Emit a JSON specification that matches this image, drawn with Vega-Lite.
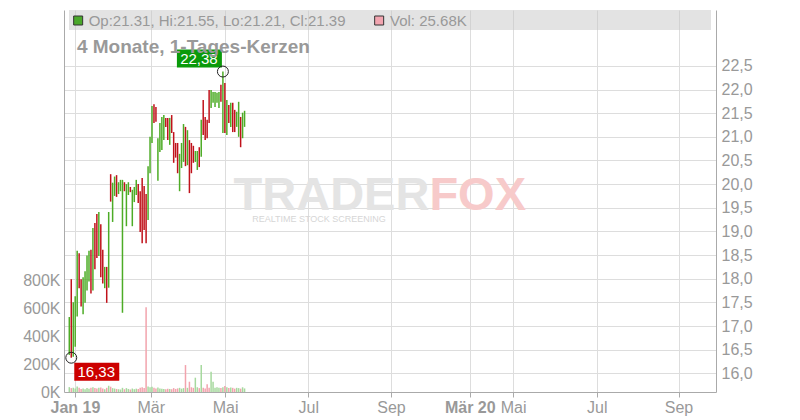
{
  "$schema": "https://vega.github.io/schema/vega-lite/v6.json",
  "autosize": {"type": "none"},
  "width": 652,
  "height": 382,
  "padding": {"left": 64, "top": 10, "right": 84, "bottom": 28},
  "background": "white",
  "config": {
    "view": {"stroke": null},
    "font": "Liberation Sans",
    "axis": {"labelColor": "#999999", "labelFont": "Liberation Sans", "labelFontSize": 16, "domainColor": "#aaaaaa", "gridColor": "#dddddd", "tickColor": "#aaaaaa", "title": null}
  },
  "datasets": {
    "candles": [
      {"i":0,"o":16.55,"h":17.19,"l":16.39,"c":17.05,"v":35000},
      {"i":1,"o":17.80,"h":17.99,"l":16.33,"c":16.50,"v":28000},
      {"i":2,"o":16.60,"h":17.50,"l":16.35,"c":17.35,"v":30000},
      {"i":3,"o":16.80,"h":17.63,"l":16.56,"c":17.50,"v":25000},
      {"i":4,"o":17.40,"h":18.59,"l":17.20,"c":18.40,"v":40000},
      {"i":5,"o":18.40,"h":18.54,"l":17.80,"c":17.90,"v":30000},
      {"i":6,"o":17.90,"h":17.99,"l":17.41,"c":17.50,"v":22000},
      {"i":7,"o":17.40,"h":18.03,"l":17.25,"c":17.90,"v":25000},
      {"i":8,"o":17.60,"h":18.16,"l":17.49,"c":18.10,"v":20000},
      {"i":9,"o":17.90,"h":18.49,"l":17.75,"c":18.40,"v":28000},
      {"i":10,"o":18.00,"h":18.59,"l":17.94,"c":18.50,"v":24000},
      {"i":11,"o":18.50,"h":18.61,"l":17.69,"c":17.80,"v":30000},
      {"i":12,"o":17.90,"h":19.07,"l":17.75,"c":19.00,"v":35000},
      {"i":13,"o":19.00,"h":19.18,"l":18.20,"c":18.30,"v":28000},
      {"i":14,"o":19.20,"h":19.37,"l":18.44,"c":18.50,"v":25000},
      {"i":15,"o":18.60,"h":19.41,"l":18.48,"c":19.30,"v":30000},
      {"i":16,"o":19.00,"h":19.15,"l":18.03,"c":18.10,"v":32000},
      {"i":17,"o":18.50,"h":18.61,"l":17.90,"c":18.00,"v":26000},
      {"i":18,"o":17.90,"h":18.25,"l":17.80,"c":18.20,"v":20000},
      {"i":19,"o":18.10,"h":18.25,"l":17.49,"c":17.60,"v":30000},
      {"i":20,"o":17.90,"h":19.41,"l":17.81,"c":19.30,"v":45000},
      {"i":21,"o":20.10,"h":20.21,"l":19.63,"c":19.70,"v":38000},
      {"i":22,"o":19.30,"h":20.03,"l":19.20,"c":19.90,"v":28000},
      {"i":23,"o":19.80,"h":20.16,"l":19.75,"c":20.10,"v":25000},
      {"i":24,"o":20.10,"h":20.19,"l":19.73,"c":19.80,"v":22000},
      {"i":25,"o":19.82,"h":20.04,"l":19.79,"c":20.00,"v":20000},
      {"i":26,"o":19.90,"h":20.09,"l":19.85,"c":20.05,"v":18000},
      {"i":27,"o":19.90,"h":20.09,"l":17.28,"c":20.05,"v":30000},
      {"i":28,"o":20.00,"h":20.04,"l":19.85,"c":19.88,"v":20000},
      {"i":29,"o":19.30,"h":20.00,"l":19.11,"c":19.90,"v":28000},
      {"i":30,"o":19.80,"h":20.04,"l":19.77,"c":20.00,"v":22000},
      {"i":31,"o":19.92,"h":19.94,"l":19.83,"c":19.85,"v":18000},
      {"i":32,"o":19.20,"h":19.88,"l":19.11,"c":19.80,"v":25000},
      {"i":33,"o":19.65,"h":19.94,"l":19.62,"c":19.90,"v":20000},
      {"i":34,"o":19.80,"h":20.09,"l":19.77,"c":20.05,"v":24000},
      {"i":35,"o":19.95,"h":20.00,"l":19.60,"c":19.65,"v":22000},
      {"i":36,"o":19.70,"h":19.85,"l":18.99,"c":19.10,"v":30000},
      {"i":37,"o":19.95,"h":20.13,"l":18.75,"c":18.90,"v":35000},
      {"i":38,"o":19.80,"h":19.96,"l":19.03,"c":19.10,"v":28000},
      {"i":39,"o":19.60,"h":19.79,"l":18.75,"c":18.90,"v":610000},
      {"i":40,"o":19.30,"h":20.38,"l":19.24,"c":20.30,"v":40000},
      {"i":41,"o":20.30,"h":21.00,"l":20.23,"c":20.90,"v":35000},
      {"i":42,"o":20.95,"h":21.65,"l":20.87,"c":21.55,"v":38000},
      {"i":43,"o":21.60,"h":21.69,"l":21.29,"c":21.35,"v":30000},
      {"i":44,"o":21.55,"h":21.63,"l":21.32,"c":21.40,"v":25000},
      {"i":45,"o":20.15,"h":20.97,"l":20.07,"c":20.90,"v":32000},
      {"i":46,"o":20.75,"h":21.29,"l":20.68,"c":21.20,"v":26000},
      {"i":47,"o":20.80,"h":21.42,"l":20.72,"c":21.35,"v":24000},
      {"i":48,"o":21.00,"h":21.46,"l":20.93,"c":21.40,"v":22000},
      {"i":49,"o":21.38,"h":21.40,"l":21.21,"c":21.25,"v":20000},
      {"i":50,"o":21.35,"h":21.40,"l":20.93,"c":21.00,"v":24000},
      {"i":51,"o":20.90,"h":21.40,"l":20.83,"c":21.35,"v":22000},
      {"i":52,"o":21.42,"h":21.46,"l":21.08,"c":21.12,"v":20000},
      {"i":53,"o":21.05,"h":21.10,"l":20.45,"c":20.50,"v":28000},
      {"i":54,"o":20.82,"h":20.87,"l":20.56,"c":20.60,"v":22000},
      {"i":55,"o":20.80,"h":20.87,"l":20.23,"c":20.30,"v":26000},
      {"i":56,"o":19.95,"h":20.64,"l":19.85,"c":20.55,"v":30000},
      {"i":57,"o":20.40,"h":20.87,"l":20.34,"c":20.80,"v":24000},
      {"i":58,"o":20.55,"h":21.27,"l":20.47,"c":21.20,"v":28000},
      {"i":59,"o":21.10,"h":21.21,"l":20.38,"c":20.45,"v":194000},
      {"i":60,"o":20.48,"h":21.14,"l":20.40,"c":21.05,"v":30000},
      {"i":61,"o":20.85,"h":20.93,"l":19.81,"c":19.90,"v":74000},
      {"i":62,"o":20.80,"h":20.87,"l":20.23,"c":20.30,"v":34000},
      {"i":63,"o":20.75,"h":20.81,"l":20.45,"c":20.50,"v":30000},
      {"i":64,"o":20.50,"h":20.70,"l":20.47,"c":20.65,"v":103000},
      {"i":65,"o":20.35,"h":20.70,"l":20.30,"c":20.65,"v":34000},
      {"i":66,"o":20.72,"h":20.78,"l":20.36,"c":20.40,"v":28000},
      {"i":67,"o":20.65,"h":21.36,"l":20.58,"c":21.30,"v":194000},
      {"i":68,"o":21.70,"h":21.78,"l":21.04,"c":21.10,"v":30000},
      {"i":69,"o":21.35,"h":21.42,"l":20.93,"c":21.00,"v":26000},
      {"i":70,"o":21.30,"h":21.36,"l":20.97,"c":21.00,"v":55000},
      {"i":71,"o":21.90,"h":21.99,"l":21.29,"c":21.35,"v":30000},
      {"i":72,"o":21.65,"h":21.99,"l":21.61,"c":21.95,"v":146000},
      {"i":73,"o":21.75,"h":21.95,"l":21.72,"c":21.92,"v":74000},
      {"i":74,"o":21.68,"h":21.95,"l":21.63,"c":21.90,"v":30000},
      {"i":75,"o":21.75,"h":21.93,"l":21.72,"c":21.90,"v":34000},
      {"i":76,"o":21.65,"h":21.95,"l":21.61,"c":21.90,"v":30000},
      {"i":77,"o":22.05,"h":22.10,"l":21.74,"c":21.78,"v":28000},
      {"i":78,"o":21.20,"h":22.38,"l":21.08,"c":22.10,"v":34000},
      {"i":79,"o":22.05,"h":22.14,"l":21.08,"c":21.15,"v":43000},
      {"i":80,"o":21.10,"h":21.78,"l":21.04,"c":21.70,"v":34000},
      {"i":81,"o":21.62,"h":21.67,"l":21.29,"c":21.32,"v":28000},
      {"i":82,"o":21.25,"h":21.72,"l":21.21,"c":21.65,"v":32000},
      {"i":83,"o":21.65,"h":21.72,"l":21.10,"c":21.15,"v":30000},
      {"i":84,"o":21.50,"h":21.57,"l":21.10,"c":21.15,"v":24000},
      {"i":85,"o":21.25,"h":21.53,"l":21.21,"c":21.50,"v":30000},
      {"i":86,"o":21.05,"h":21.74,"l":21.00,"c":21.70,"v":28000},
      {"i":87,"o":21.35,"h":21.42,"l":20.78,"c":20.85,"v":24000},
      {"i":88,"o":21.00,"h":21.51,"l":20.97,"c":21.45,"v":34000},
      {"i":89,"o":21.31,"h":21.55,"l":21.21,"c":21.39,"v":25680}
    ],
    "hi": [{"i":78,"p":22.38,"label":"22,38"}],
    "lo": [{"i":1,"p":16.33,"label":"16,33"}]
  },
  "layer": [
    {
      "layer": [
        {
          "data": {"name": "candles"},
          "mark": {"type": "rule", "strokeWidth": 1.5},
          "encoding": {
            "x": {"field": "i", "type": "quantitative", "scale": {"domain": [-0.15, 325.85], "nice": false, "zero": false},
              "axis": {"orient": "bottom", "values": [2.85, 41.35, 79.1, 121.35, 163.35, 203.35, 225.35, 267.85, 309.35], "tickCount": 20,
                "labelExpr": "datum.value < 10 ? 'Jan 19' : datum.value < 50 ? 'Mär' : datum.value < 100 ? 'Mai' : datum.value < 150 ? 'Jul' : datum.value < 180 ? 'Sep' : datum.value < 210 ? 'Mär 20' : datum.value < 250 ? 'Mai' : datum.value < 290 ? 'Jul' : 'Sep'",
                "labelFontWeight": {"condition": {"test": "datum.value < 10 || (datum.value > 180 && datum.value < 210)", "value": "bold"}, "value": "normal"},
                "grid": true, "tickSize": 5, "labelPadding": 2, "labelFlush": false, "labelOverlap": false, "title": null}},
            "y": {"field": "l", "type": "quantitative", "scale": {"domain": [15.605, 23.681], "nice": false, "zero": false},
              "axis": {"orient": "right", "values": [16, 16.5, 17, 17.5, 18, 18.5, 19, 19.5, 20, 20.5, 21, 21.5, 22, 22.5], "tickCount": 30,
                "labelExpr": "replace(format(datum.value,'.1f'),'.',',')", "grid": true, "ticks": false, "labelPadding": 5, "labelOverlap": false, "labelFlush": false, "title": null}},
            "y2": {"field": "h"},
            "color": {"condition": {"test": "datum.c >= datum.o", "value": "#4dac26"}, "value": "#c0121b"}
          }
        },
        {
          "data": {"values": [{}]},
          "mark": {"type": "rect", "color": "#c8c8c8", "opacity": 0.5},
          "encoding": {
            "x": {"datum": -0.15, "type": "quantitative"},
            "x2": {"datum": 325.85},
            "y": {"datum": 23.26, "type": "quantitative"},
            "y2": {"datum": 23.681}
          }
        },
        {
          "data": {"name": "hi"},
          "mark": {"type": "point", "shape": "M-46,-22H-1V-4H-46Z", "size": 4, "filled": true, "color": "#0a9a0a", "opacity": 1},
          "encoding": {"x": {"field": "i", "type": "quantitative"}, "y": {"field": "p", "type": "quantitative"}}
        },
        {
          "data": {"name": "hi"},
          "mark": {"type": "text", "dx": -24, "dy": -13, "align": "center", "baseline": "middle", "fontSize": 15, "color": "white", "font": "Liberation Sans"},
          "encoding": {"x": {"field": "i", "type": "quantitative"}, "y": {"field": "p", "type": "quantitative"}, "text": {"field": "label"}}
        },
        {
          "data": {"name": "lo"},
          "mark": {"type": "point", "shape": "M3,5H48V23H3Z", "size": 4, "filled": true, "color": "#cc0000", "opacity": 1},
          "encoding": {"x": {"field": "i", "type": "quantitative"}, "y": {"field": "p", "type": "quantitative"}}
        },
        {
          "data": {"name": "lo"},
          "mark": {"type": "text", "dx": 25, "dy": 14, "align": "center", "baseline": "middle", "fontSize": 15, "color": "white", "font": "Liberation Sans"},
          "encoding": {"x": {"field": "i", "type": "quantitative"}, "y": {"field": "p", "type": "quantitative"}, "text": {"field": "label"}}
        },
        {
          "data": {"name": "hi"},
          "mark": {"type": "point", "shape": "circle", "size": 120, "filled": false, "stroke": "#222222", "strokeWidth": 1, "opacity": 1},
          "encoding": {"x": {"field": "i", "type": "quantitative"}, "y": {"field": "p", "type": "quantitative"}}
        },
        {
          "data": {"name": "lo"},
          "mark": {"type": "point", "shape": "circle", "size": 120, "filled": false, "stroke": "#222222", "strokeWidth": 1, "opacity": 1},
          "encoding": {"x": {"field": "i", "type": "quantitative"}, "y": {"field": "p", "type": "quantitative"}}
        },
        {
          "data": {"values": [{}]},
          "mark": {"type": "text", "text": "TRADER", "align": "right", "baseline": "alphabetic", "fontSize": 47, "fontWeight": "bold", "color": "#e4e4e4", "font": "Liberation Sans"},
          "encoding": {"x": {"datum": 182.85, "type": "quantitative"}, "y": {"datum": 19.45, "type": "quantitative"}}
        },
        {
          "data": {"values": [{}]},
          "mark": {"type": "text", "text": "FOX", "align": "left", "baseline": "alphabetic", "fontSize": 47, "fontWeight": "bold", "color": "#f7caca", "font": "Liberation Sans"},
          "encoding": {"x": {"datum": 182.85, "type": "quantitative"}, "y": {"datum": 19.45, "type": "quantitative"}}
        },
        {
          "data": {"values": [{}]},
          "mark": {"type": "text", "text": "REALTIME STOCK SCREENING", "align": "left", "baseline": "alphabetic", "fontSize": 9, "color": "#d6d6d6", "font": "Liberation Sans"},
          "encoding": {"x": {"datum": 92.85, "type": "quantitative"}, "y": {"datum": 19.2, "type": "quantitative"}}
        },
        {
          "data": {"values": [{}]},
          "mark": {"type": "text", "text": "4 Monate, 1-Tages-Kerzen", "align": "left", "baseline": "middle", "fontSize": 19, "fontWeight": "bold", "color": "#999999", "font": "Liberation Sans"},
          "encoding": {"x": {"datum": 3.85, "type": "quantitative"}, "y": {"datum": 22.9, "type": "quantitative"}}
        },
        {
          "data": {"values": [{}]},
          "mark": {"type": "point", "shape": "square", "size": 81, "filled": true, "color": "#4aa82a", "stroke": "#333333", "strokeWidth": 1, "opacity": 1},
          "encoding": {"x": {"datum": 4.5, "type": "quantitative"}, "y": {"datum": 23.459, "type": "quantitative"}}
        },
        {
          "data": {"values": [{}]},
          "mark": {"type": "point", "shape": "square", "size": 81, "filled": true, "color": "#f2a5b0", "stroke": "#333333", "strokeWidth": 1, "opacity": 1},
          "encoding": {"x": {"datum": 157.35, "type": "quantitative"}, "y": {"datum": 23.459, "type": "quantitative"}}
        },
        {
          "data": {"values": [{}]},
          "mark": {"type": "text", "text": "Op:21.31, Hi:21.55, Lo:21.21, Cl:21.39", "align": "left", "baseline": "middle", "fontSize": 15, "color": "#999999", "font": "Liberation Sans"},
          "encoding": {"x": {"datum": 9.85, "type": "quantitative"}, "y": {"datum": 23.459, "type": "quantitative"}}
        },
        {
          "data": {"values": [{}]},
          "mark": {"type": "text", "text": "Vol: 25.68K", "align": "left", "baseline": "middle", "fontSize": 15, "color": "#999999", "font": "Liberation Sans"},
          "encoding": {"x": {"datum": 162.85, "type": "quantitative"}, "y": {"datum": 23.459, "type": "quantitative"}}
        }
      ]
    },
    {
      "data": {"name": "candles"},
      "mark": {"type": "bar", "size": 1.5},
      "encoding": {
        "x": {"field": "i", "type": "quantitative"},
        "y": {"field": "v", "type": "quantitative", "scale": {"domain": [0, 2750000], "nice": false, "zero": false},
          "axis": {"orient": "left", "values": [0, 200000, 400000, 600000, 800000], "tickCount": 20, "labelExpr": "format(datum.value/1000,'d') + 'K'", "grid": false, "ticks": false, "labelPadding": 4, "labelOverlap": false, "title": null}},
        "color": {"condition": {"test": "datum.c >= datum.o", "value": "#a6d99e"}, "value": "#f2a3ad"}
      }
    }
  ],
  "resolve": {"scale": {"y": "independent"}}
}
